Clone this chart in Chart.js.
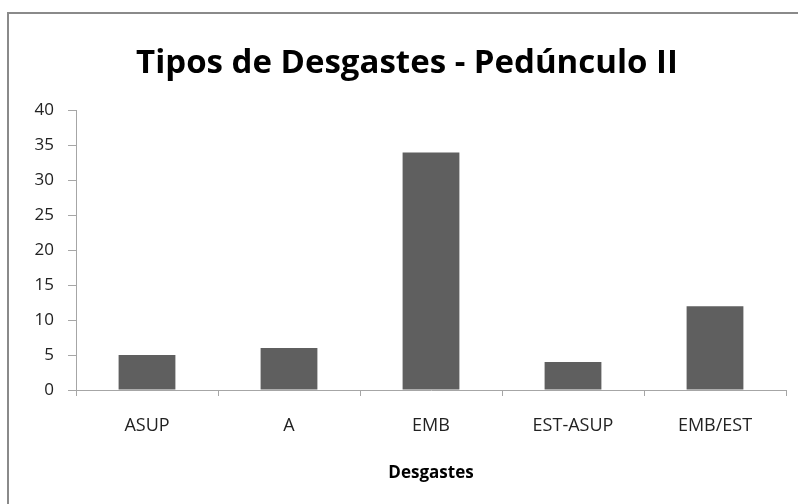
<!DOCTYPE html>
<html>
<head>
<meta charset="utf-8">
<script src="https://cdn.jsdelivr.net/npm/chart.js@4/dist/chart.umd.min.js"></script>
<style>
html,body{margin:0;padding:0;background:#fff;}
#wrap{position:relative;width:798px;height:504px;overflow:hidden;}
#frame{position:absolute;left:7px;top:12px;width:900px;height:600px;border-top:2px solid #8a8a8a;border-left:2px solid #8a8a8a;box-sizing:border-box;}
canvas{position:absolute;left:0;top:0;}
</style>
</head>
<body>
<div id="wrap">
<div id="frame"></div>
<canvas id="c" width="798" height="504"></canvas>
</div>
<script>
const categories = ["ASUP", "A", "EMB", "EST-ASUP", "EMB/EST"];
const values = [5, 6, 34, 4, 12];
const yTicks = [0, 5, 10, 15, 20, 25, 30, 35, 40];
const titleText = "Tipos de Desgastes - Pedúnculo II";
const xTitle = "Desgastes";

const FONT = "'Open Sans', 'DejaVu Sans', sans-serif";

new Chart(document.getElementById('c'), {
  type: 'bar',
  data: {
    labels: categories,
    datasets: [{
      data: values,
      backgroundColor: '#5f5f5f',
      borderWidth: 0,
      barPercentage: 0.4,
      categoryPercentage: 1.0
    }]
  },
  options: {
    responsive: false,
    animation: false,
    layout: { padding: { left: 28, right: 12, top: 0, bottom: 0 } },
    plugins: {
      legend: { display: false },
      tooltip: { enabled: false },
      title: {
        display: true,
        text: titleText,
        color: '#000',
        font: { family: FONT, size: 33, weight: 'bold' },
        padding: { top: 44, bottom: 27 }
      }
    },
    scales: {
      x: {
        offset: true,
        grid: { display: true, offset: true, drawOnChartArea: false, drawTicks: true, tickLength: 6, color: '#a6a6a6' },
        border: { display: true, color: '#a6a6a6', width: 1 },
        ticks: { color: '#222', font: { family: FONT, size: 18 }, padding: 19, maxRotation: 0 },
        title: { display: true, text: xTitle, color: '#000', font: { family: FONT, size: 17, weight: 'bold' }, padding: { top: 0, bottom: 21 } },
        afterFit: (s) => { s.height = 114; }
      },
      y: {
        min: 0,
        max: 40,
        afterBuildTicks: (s) => { s.ticks = yTicks.map(v => ({ value: v })); },
        grid: { display: true, drawOnChartArea: false, drawTicks: true, tickLength: 8, color: '#a6a6a6' },
        border: { display: true, color: '#a6a6a6', width: 1 },
        ticks: { color: '#222', font: { family: FONT, size: 17 }, padding: 14 },
        afterFit: (s) => { s.width = 48; }
      }
    }
  }
});
</script>
</body>
</html>
